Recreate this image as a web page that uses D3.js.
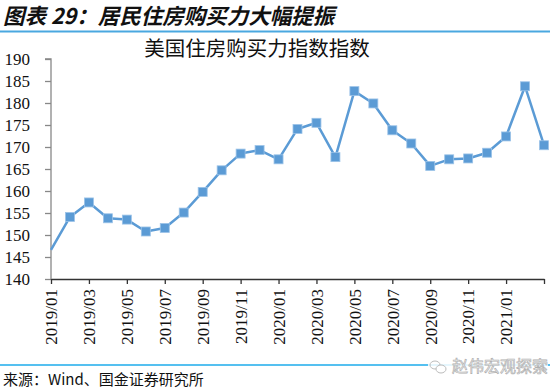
<!DOCTYPE html>
<html><head><meta charset="utf-8">
<script src="https://cdn.jsdelivr.net/npm/d3@7"></script>
<style>
html,body{margin:0;padding:0;background:#fff;}
svg{display:block;}
</style></head>
<body>
<svg id="c" width="550" height="390"></svg>
<script>
const months = ["2019/01","2019/02","2019/03","2019/04","2019/05","2019/06","2019/07","2019/08","2019/09","2019/10","2019/11","2019/12",
"2020/01","2020/02","2020/03","2020/04","2020/05","2020/06","2020/07","2020/08","2020/09","2020/10","2020/11","2020/12",
"2021/01","2021/02","2021/03"];
const values = [146.6,154.1,157.4,153.8,153.5,150.8,151.6,155.1,159.8,164.7,168.5,169.3,
167.2,174.1,175.5,167.7,182.7,179.9,173.8,170.8,165.7,167.2,167.4,168.7,
172.4,183.8,170.4];
const yTicks = [140,145,150,155,160,165,170,175,180,185,190];
const xTickLabels = ["2019/01","2019/03","2019/05","2019/07","2019/09","2019/11","2020/01","2020/03","2020/05","2020/07","2020/09","2020/11","2021/01"];
const headerText = "图表 29：居民住房购买力大幅提振";
const chartTitle = "美国住房购买力指数指数";
const sourceText = "来源：Wind、国金证券研究所";
const watermark = "赵伟宏观探索";

const svg = d3.select("#c");
const L = 51, R = 544, T = 59, B = 279;
const x = d3.scalePoint().domain(months).range([L, R]);
const y = d3.scaleLinear().domain([140, 190]).range([B, T]);

// header
svg.append("text").attr("x", 3).attr("y", 24)
  .attr("font-family", "Noto Sans CJK SC").attr("font-weight", "bold").attr("font-style", "italic")
  .attr("font-size", 21.5).attr("fill", "#111").text(headerText);
svg.append("line").attr("x1", 0).attr("x2", 550).attr("y1", 31.5).attr("y2", 31.5)
  .attr("stroke", "#4aa8e0").attr("stroke-width", 2);

// chart title
svg.append("text").attr("x", 257).attr("y", 56).attr("text-anchor", "middle")
  .attr("font-family", "Noto Sans CJK SC").attr("font-size", 20.5).attr("fill", "#111").text(chartTitle);

// y axis
const yAxis = svg.append("g").attr("transform", `translate(${L},0)`)
  .call(d3.axisLeft(y).tickValues(yTicks).tickSize(6).tickPadding(15).tickFormat(d3.format("d")));
yAxis.select(".domain").attr("stroke", "#888").attr("stroke-width", 1.3).attr("d", `M-6,${T}H0V${B}`);
yAxis.selectAll(".tick line").attr("stroke", "#888").attr("stroke-width", 1.3);
yAxis.selectAll(".tick text").attr("font-family", "Liberation Serif").attr("font-size", 17).attr("fill", "#111").attr("dy", "0.34em");

// x axis
const tickMonths = months.filter((m, i) => i % 2 === 0);
const xAxis = svg.append("g").attr("transform", `translate(0,${B})`)
  .call(d3.axisBottom(x).tickValues(tickMonths).tickSize(5).tickSizeOuter(0)
    .tickFormat(d => xTickLabels.includes(d) ? d : ""));
xAxis.select(".domain").attr("stroke", "#333").attr("stroke-width", 1.3);
xAxis.selectAll(".tick line").attr("stroke", "#333").attr("stroke-width", 1.3);
xAxis.selectAll(".tick text").attr("font-family", "Liberation Serif").attr("font-size", 17).attr("fill", "#111")
  .attr("transform", "rotate(-90)").attr("text-anchor", "end").attr("x", -10).attr("y", 0).attr("dy", "0.34em");

// line
svg.append("path").datum(values)
  .attr("fill", "none").attr("stroke", "#5b9bd5").attr("stroke-width", 2.5).attr("stroke-linejoin", "round")
  .attr("d", d3.line().x((d, i) => x(months[i])).y(d => y(d)));

// markers (first point has no visible marker)
svg.append("g").selectAll("rect").data(values.slice(1)).join("rect")
  .attr("x", (d, i) => x(months[i + 1]) - 4.5).attr("y", d => y(d) - 4.5)
  .attr("width", 9).attr("height", 9)
  .attr("fill", "#5b9bd5").attr("stroke", "#9cc3e8").attr("stroke-width", 0.8);

// bottom line
svg.append("line").attr("x1", 0).attr("x2", 550).attr("y1", 365).attr("y2", 365)
  .attr("stroke", "#55c0f0").attr("stroke-width", 2);

// watermark
const wm = svg.append("g").attr("transform", "translate(430,366)");
wm.append("rect").attr("x", -2).attr("y", -9).attr("width", 120).attr("height", 18).attr("fill", "#fff").attr("opacity", 0.85);
wm.append("ellipse").attr("cx", 5).attr("cy", -1).attr("rx", 5).attr("ry", 4).attr("fill", "none").attr("stroke", "#bbb").attr("stroke-width", 1);
wm.append("ellipse").attr("cx", 11).attr("cy", 3).attr("rx", 5).attr("ry", 4).attr("fill", "#fff").attr("stroke", "#bbb").attr("stroke-width", 1);
wm.append("text").attr("x", 22).attr("y", 6).attr("font-family", "Noto Sans CJK SC").attr("font-size", 16)
  .attr("fill", "#fff").attr("stroke", "#b0b0b0").attr("stroke-width", 0.7).text(watermark);

// source
svg.append("text").attr("x", 3).attr("y", 385)
  .attr("font-family", "Noto Sans CJK SC").attr("font-size", 15).attr("fill", "#111").text(sourceText);
</script>
</body></html>
